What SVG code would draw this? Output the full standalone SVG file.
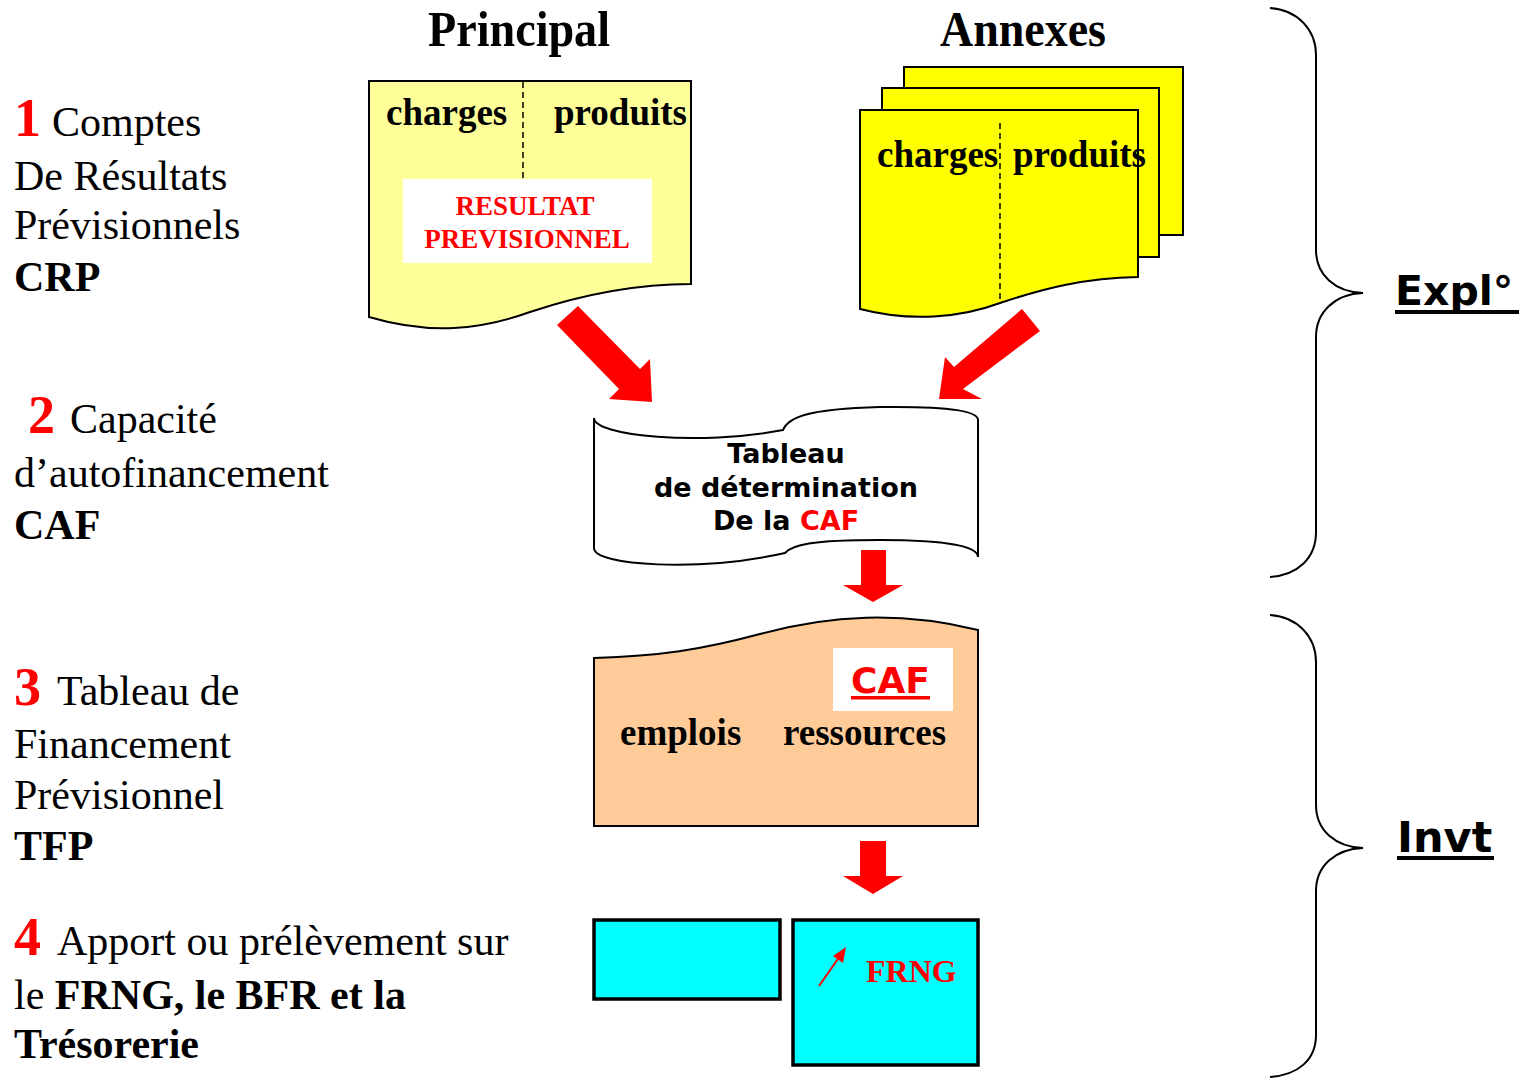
<svg xmlns="http://www.w3.org/2000/svg" width="1522" height="1078" viewBox="0 0 1522 1078">
<style>
.ser{font-family:"Liberation Serif","Times New Roman",serif;}
.lbl{font-family:"Liberation Serif",serif;font-size:42px;fill:#000;}
.num{font-family:"Liberation Serif",serif;font-size:54px;font-weight:bold;fill:#ff0000;}
.b{font-weight:bold;}
.doc{font-family:"Liberation Serif",serif;font-size:37px;font-weight:bold;fill:#000;}
.res{font-family:"Liberation Serif",serif;font-size:27px;font-weight:bold;fill:#ff0000;}
.vb{font-family:"DejaVu Sans",Verdana,sans-serif;font-weight:bold;}
.outline{stroke:#000;stroke-width:2;}
.dash{stroke:#000;stroke-width:1.5;stroke-dasharray:6,4;fill:none;}
.brace{fill:none;stroke:#000;stroke-width:2;}
.red{fill:#ff0000;}
</style>

<g id="titles">
<text class="ser b" x="428" y="46" font-size="50" textLength="182" lengthAdjust="spacingAndGlyphs">Principal</text>
<text class="ser b" x="940" y="46" font-size="50" textLength="166" lengthAdjust="spacingAndGlyphs">Annexes</text>
</g>

<g id="left-labels">
<text class="num" x="14" y="136">1</text>
<text class="lbl" x="52" y="136">Comptes</text>
<text class="lbl" x="14" y="190">De Résultats</text>
<text class="lbl" x="14" y="239">Prévisionnels</text>
<text class="lbl b" x="14" y="291">CRP</text>

<text class="num" x="28" y="433">2</text>
<text class="lbl" x="70" y="433">Capacité</text>
<text class="lbl" x="14" y="487">d’autofinancement</text>
<text class="lbl b" x="14" y="539">CAF</text>

<text class="num" x="14" y="705">3</text>
<text class="lbl" x="57" y="705">Tableau de</text>
<text class="lbl" x="14" y="758">Financement</text>
<text class="lbl" x="14" y="809">Prévisionnel</text>
<text class="lbl b" x="14" y="860">TFP</text>

<text class="num" x="14" y="955">4</text>
<text class="lbl" x="57" y="955">Apport ou prélèvement sur</text>
<text class="lbl" x="14" y="1009">le <tspan font-weight="bold">FRNG, le BFR et la</tspan></text>
<text class="lbl b" x="14" y="1058">Trésorerie</text>
</g>

<g id="principal">
<path class="outline" fill="#ffff99" d="M369,81 H691 V284 C640,284 590,292 530,312 C480,330 430,335 369,317 Z"/>
<line class="dash" x1="523" y1="82" x2="523" y2="179"/>
<rect x="403" y="179" width="249" height="84" fill="#fff"/>
<text class="doc" x="386" y="125">charges</text>
<text class="doc" x="554" y="125">produits</text>
<text class="res" x="525" y="215" text-anchor="middle">RESULTAT</text>
<text class="res" x="527" y="248" text-anchor="middle">PREVISIONNEL</text>
</g>

<g id="annexes">
<rect class="outline" x="904" y="67" width="279" height="168" fill="#ffff00"/>
<rect class="outline" x="882" y="88" width="277" height="169" fill="#ffff00"/>
<path class="outline" fill="#ffff00" d="M860,110 H1138 V277 C1085,278 1045,288 1000,303 C960,318 910,322 860,309 Z"/>
<line class="dash" x1="1000" y1="123" x2="1000" y2="302"/>
<text class="doc" x="877" y="167">charges</text>
<text class="doc" x="1013" y="167">produits</text>
</g>

<g id="caf-table">
<path class="outline" fill="#fff" d="M594,418 C594,436 700,446 783,430 C788,418 805,409 880,407 C955,406 978,412 978,420 V557 C978,548 955,540 880,540 C810,540 792,545 785,553 C700,572 594,566 594,548 Z"/>
<text class="vb" font-size="27" x="786" y="463" text-anchor="middle">Tableau</text>
<text class="vb" font-size="27" x="786" y="497" text-anchor="middle">de détermination</text>
<text class="vb" font-size="27" x="786" y="530" text-anchor="middle">De la <tspan fill="#ff0000">CAF</tspan></text>
</g>

<g id="tfp">
<path class="outline" fill="#ffcc99" d="M594,826 V658 C660,656 700,650 760,634 C830,615 900,611 978,630 V826 Z"/>
<rect x="833" y="648" width="120" height="63" fill="#fff"/>
<text class="vb" font-size="36" x="851" y="693" fill="#ff0000">CAF</text>
<rect x="851" y="696" width="79" height="3.5" fill="#ff0000"/>
<text class="doc" x="620" y="745">emplois</text>
<text class="doc" x="783" y="745">ressources</text>
</g>

<g id="frng">
<rect x="594" y="920" width="186" height="79" fill="#00ffff" stroke="#000" stroke-width="3.5"/>
<rect x="793" y="920" width="185" height="145" fill="#00ffff" stroke="#000" stroke-width="3.5"/>
<line x1="819" y1="986" x2="840" y2="956" stroke="#ff0000" stroke-width="2"/>
<polygon class="red" points="846,947 843,963 833,956"/>
<text class="ser b" font-size="32" x="866" y="982" fill="#ff0000">FRNG</text>
</g>

<g id="connectors">
<polygon class="red" points="557,325 578,306 640,369 650,359 652,402 609,399 619,389"/>
<polygon class="red" points="1022,309 1040,331 963,389 982,399 939,399 945,357 954,367"/>
<polygon class="red" points="861,550 886,550 886,585 903,585 873,602 843,585 861,585"/>
<polygon class="red" points="860,841 886,841 886,876 903,876 873,894 843,876 860,876"/>
</g>

<g id="brace-expl">
<path class="brace" d="M1270,8 C1298,10 1316,30 1316,55 V250 C1316,275 1335,292 1363,293 C1335,294 1316,312 1316,337 V532 C1316,558 1298,575 1270,577"/>
<text class="vb" font-size="41" x="1395" y="305">Expl°</text>
<rect x="1395" y="310" width="124" height="4" fill="#000"/>
</g>

<g id="brace-invt">
<path class="brace" d="M1270,615 C1298,617 1316,637 1316,662 V805 C1316,830 1335,847 1363,848 C1335,849 1316,866 1316,891 V1035 C1316,1060 1298,1075 1270,1077"/>
<text class="vb" font-size="43" x="1397" y="852">Invt</text>
<rect x="1397" y="856" width="97" height="4" fill="#000"/>
</g>
</svg>
